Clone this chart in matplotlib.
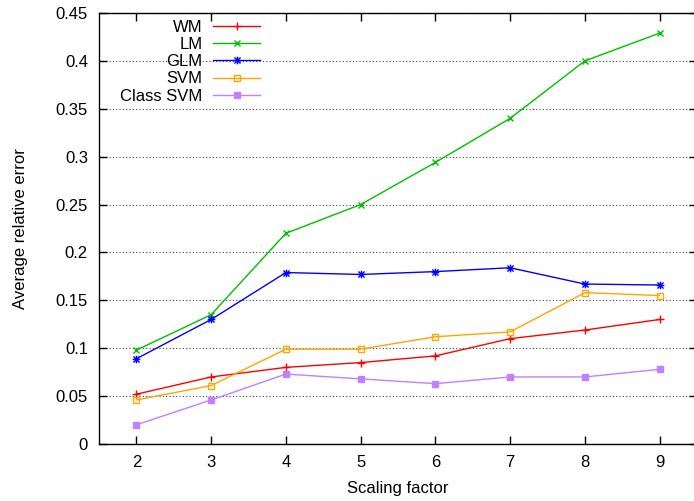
import matplotlib.pyplot as plt
from matplotlib.path import Path

plt.rcParams['font.family'] = ['Liberation Sans', 'DejaVu Sans']

scale = [2, 3, 4, 5, 6, 7, 8, 9]
wm = [0.052, 0.070, 0.080, 0.085, 0.092, 0.110, 0.119, 0.130]
lm = [0.098, 0.135, 0.220, 0.250, 0.294, 0.340, 0.400, 0.429]
glm = [0.089, 0.130, 0.179, 0.177, 0.180, 0.184, 0.167, 0.166]
svm = [0.046, 0.061, 0.099, 0.099, 0.112, 0.117, 0.158, 0.155]
class_svm = [0.020, 0.046, 0.073, 0.068, 0.063, 0.070, 0.070, 0.078]

# gnuplot-style "+" and "x" overlaid
star = Path([(-1, 0), (1, 0), (0, -1), (0, 1), (-0.8, -0.8), (0.8, 0.8), (-0.8, 0.8), (0.8, -0.8)],
            [Path.MOVETO, Path.LINETO] * 4)

fig = plt.figure(figsize=(6.94, 5.01), dpi=100)
ax = fig.add_axes([99 / 694, 57 / 501, 598 / 694, 431 / 501])

ax.plot(scale, wm, color='#ff0000', lw=1, marker='+', ms=6, mew=1, label='WM')
ax.plot(scale, lm, color='#00c000', lw=1, marker='x', ms=5, mew=1, label='LM')
ax.plot(scale, glm, color='#0000ff', lw=1, marker=star, ms=5.5, mew=1, label='GLM')
ax.plot(scale, svm, color='#ffa500', lw=1, marker='s', ms=5, mew=1, mfc='none', label='SVM')
ax.plot(scale, class_svm, color='#c080ff', lw=1, marker='s', ms=5, mew=1, label='Class SVM')

ax.set_xlim(1.5, 9.5)
ax.set_ylim(0, 0.45)
ax.set_xticks(scale)
ax.set_yticks([0, 0.05, 0.1, 0.15, 0.2, 0.25, 0.3, 0.35, 0.4, 0.45])
ax.set_yticklabels(['0', '0.05', '0.1', '0.15', '0.2', '0.25', '0.3', '0.35', '0.4', '0.45'])
ax.tick_params(direction='in', length=6, width=1, top=True, right=True, labelsize=12, pad=8)
ax.yaxis.grid(True, linestyle=(0, (1, 2)), color='#444444', lw=0.8)
ax.set_axisbelow(True)
for s in ax.spines.values():
    s.set_linewidth(1)

ax.set_xlabel('Scaling factor', fontsize=12, labelpad=8)
ax.set_ylabel('Average relative error', fontsize=12, labelpad=20)

ax.legend(loc='upper right', bbox_to_anchor=(161 / 598, 0.984), frameon=False, markerfirst=False,
          numpoints=1, handlelength=2.8, handletextpad=0.65, labelspacing=0.13, borderpad=0,
          borderaxespad=0, fontsize=12)

fig.savefig('out.png', dpi=100)
